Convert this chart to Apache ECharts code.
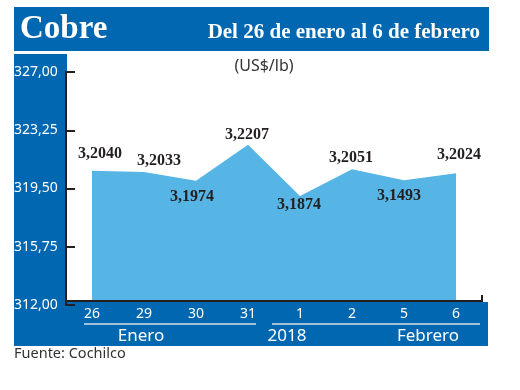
<!DOCTYPE html>
<html>
<head>
<meta charset="utf-8">
<script src="https://cdn.jsdelivr.net/npm/echarts@6/dist/echarts.min.js"></script>
<style>html,body{margin:0;padding:0;background:#fff}#c{width:520px;height:390px}</style>
</head>
<body>
<div id="c"></div>
<script>
var categories = ['26', '29', '30', '31', '1', '2', '5', '6'];
var values = [320.65, 320.56, 320.00, 322.32, 319.02, 320.74, 320.03, 320.48];
var valueLabels = ['3,2040', '3,2033', '3,1974', '3,2207', '3,1874', '3,2051', '3,1493', '3,2024'];
var yTicks = [312, 315.75, 319.5, 323.25, 327];
var months = ['Enero', '2018', 'Febrero'];

var labelOffsets = [[8, -17], [15, -11], [-4, 16], [-1, -10], [-1, 9], [-1, -11], [-5, 16], [3, -18]];

var BLUE = '#0067b0';
var AREA = '#57b5e5';
var DARK = '#231f20';

var chart = echarts.init(document.getElementById('c'));
var data = values.map(function (v, i) {
  return {
    value: v,
    label: { offset: labelOffsets[i], formatter: valueLabels[i] }
  };
});

chart.setOption({
  animation: false,
  grid: { left: 66, right: 38, top: 72, bottom: 85 },
  xAxis: {
    type: 'category',
    data: categories,
    boundaryGap: true,
    offset: -4,
    z: 10,
    axisLine: { show: true, lineStyle: { color: DARK, width: 2 } },
    axisTick: { show: false },
    axisLabel: { color: '#ffffff', fontFamily: 'Noto Sans', fontSize: 14, margin: 6 }
  },
  yAxis: {
    type: 'value',
    min: 312,
    max: 327,
    z: 10,
    splitLine: { show: false },
    axisLine: { show: true, lineStyle: { color: DARK, width: 2 } },
    axisTick: { show: true, inside: true, length: 9, lineStyle: { color: DARK, width: 2 }, customValues: yTicks },
    axisLabel: {
      customValues: yTicks,
      color: '#ffffff', fontFamily: 'Noto Sans', fontSize: 14,
      align: 'left', margin: 52,
      formatter: function (v) { return v.toFixed(2).replace('.', ','); }
    }
  },
  series: [{
    type: 'line',
    data: data,
    z: 2,
    symbol: 'circle',
    symbolSize: 1,
    itemStyle: { color: 'rgba(0,0,0,0)' },
    lineStyle: { width: 0, color: AREA },
    areaStyle: { color: AREA, opacity: 1, origin: 'start' },
    label: {
      show: true,
      position: 'inside',
      color: DARK,
      fontFamily: 'Liberation Serif',
      fontWeight: 'bold',
      fontSize: 16
    }
  }],
  graphic: [
    { type: 'rect', z: -10, shape: { x: 14, y: 7, width: 475, height: 44 }, style: { fill: BLUE } },
    { type: 'rect', z: -10, shape: { x: 14, y: 54, width: 53, height: 292 }, style: { fill: BLUE } },
    { type: 'rect', z: 3, shape: { x: 14, y: 302, width: 474, height: 44 }, style: { fill: BLUE } },
    { type: 'text', z: 20, x: 20, y: 29, style: { text: 'Cobre', fill: '#fff', font: 'bold 33px "Liberation Serif"', verticalAlign: 'middle' } },
    { type: 'text', z: 20, x: 480, y: 33, style: { text: 'Del 26 de enero al 6 de febrero', fill: '#fff', font: 'bold 21px "Liberation Serif"', align: 'right', verticalAlign: 'middle' } },
    { type: 'text', z: 20, x: 264, y: 66, style: { text: '(US$/lb)', fill: '#333', font: '16px "Noto Sans"', align: 'center', verticalAlign: 'middle' } },
    { type: 'line', z: 20, shape: { x1: 482, y1: 295, x2: 482, y2: 302 }, style: { stroke: DARK, lineWidth: 2 } },
    { type: 'line', z: 20, shape: { x1: 84, y1: 324, x2: 256, y2: 324 }, style: { stroke: '#d5deea', lineWidth: 1.5 } },
    { type: 'line', z: 20, shape: { x1: 272, y1: 324, x2: 480, y2: 324 }, style: { stroke: '#d5deea', lineWidth: 1.5 } },
    { type: 'text', z: 20, x: 141, y: 336, style: { text: months[0], fill: '#fff', font: '17px "Noto Sans"', align: 'center', verticalAlign: 'middle' } },
    { type: 'text', z: 20, x: 287, y: 336, style: { text: months[1], fill: '#fff', font: '17px "Noto Sans"', align: 'center', verticalAlign: 'middle' } },
    { type: 'text', z: 20, x: 428, y: 336, style: { text: months[2], fill: '#fff', font: '17px "Noto Sans"', align: 'center', verticalAlign: 'middle' } },
    { type: 'text', z: 20, x: 14, y: 354, style: { text: 'Fuente: Cochilco', fill: '#333', font: '14.5px "Noto Sans"', verticalAlign: 'middle' } }
  ]
});
</script>
</body>
</html>
